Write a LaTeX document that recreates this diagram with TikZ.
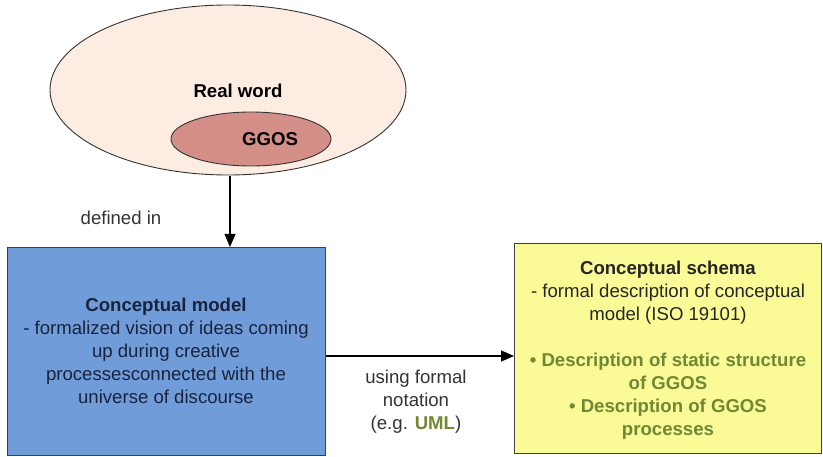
\documentclass[tikz,border=0pt]{standalone}
\usepackage{fontspec}
\setmainfont{Liberation Sans}
\usetikzlibrary{shapes.geometric,arrows.meta}
\definecolor{peach}{RGB}{252,236,226}
\definecolor{rose}{RGB}{212,143,136}
\definecolor{modelblue}{RGB}{112,157,218}
\definecolor{schemayellow}{RGB}{250,250,150}
\definecolor{olive}{RGB}{112,136,52}
\definecolor{navytext}{RGB}{25,35,60}
\tikzset{
  every node/.style={font=\fontsize{18.6}{23}\selectfont},
  realm/.style={ellipse, draw=black!80, line width=0.9pt, inner sep=0pt},
  panel/.style={draw=black!75, line width=1.1pt, inner sep=0pt, anchor=north west},
  link/.style={-{Triangle[length=13pt,width=11pt]}, line width=1.1pt, black},
  caption/.style={align=center, text=black!80},
}
\begin{document}
\begin{tikzpicture}[x=1pt,y=-1pt]
\useasboundingbox (0,0) rectangle (823,457);
% the real world and the GGOS inside it
\node[realm, fill=peach, minimum width=356pt, minimum height=170pt] (world) at (228,90) {};
\node[font=\bfseries\fontsize{18.6}{23}\selectfont] (worldlbl) at (238,91) {Real word};
\node[realm, fill=rose, minimum width=160pt, minimum height=54pt] (ggos) at (251,139) {};
\node[font=\bfseries\fontsize{18.6}{23}\selectfont] (ggoslbl) at (270,139) {GGOS};
% boxes
\node[panel, fill=modelblue, minimum width=318pt, minimum height=208pt] (model) at (7,247) {};
\node[panel, fill=schemayellow, minimum width=307pt, minimum height=210pt] (schema) at (514,243) {};
% texts of the boxes
\node[caption, text=navytext] (modeltxt) at (166,351)
  {\textbf{Conceptual model}\\- formalized vision of ideas coming\\up during creative\\processesconnected with the\\universe of discourse};
\node[caption, text=black!85] (schematxt) at (668,293)
  {\textbf{Conceptual schema}\\- formal description of conceptual\\model (ISO 19101)};
\node[caption, text=olive, font=\bfseries\fontsize{18.6}{23}\selectfont] (schemalist) at (668,396)
  {• Description of static structure\\of GGOS\\• Description of GGOS\\processes};
% connectors
\coordinate (top) at (230,176);
\draw[link] (top) -- (top |- model.north);
\node[caption] (defined) at (121,218) {defined in};
\draw[link] (model.east |- 0,356) -- (schema.west |- 0,356);
\node[caption] (notation) at (416,402) {using formal\\notation\\(e.g. \textcolor{olive}{\textbf{UML}})};
\end{tikzpicture}
\end{document}
